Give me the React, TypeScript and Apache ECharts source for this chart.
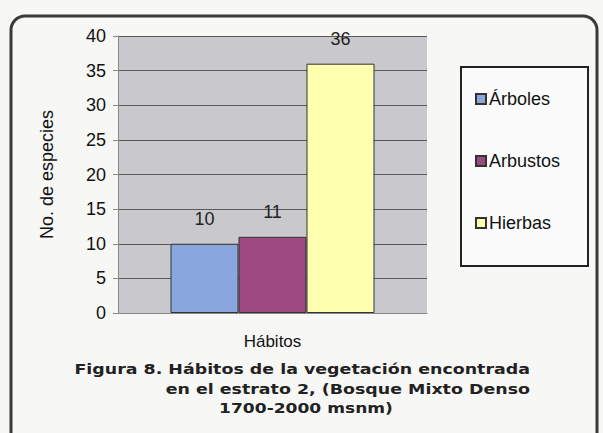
import React, { useEffect, useRef } from "react";
import * as echarts from "echarts";

const categories = [""];
const seriesNames = ["Árboles", "Arbustos", "Hierbas"];
const arboles = [10];
const arbustos = [11];
const hierbas = [36];
const yTicks = { min: 0, max: 40, interval: 5 };
const captionLines = [
  "Figura 8. Hábitos de la vegetación encontrada",
  "en el estrato 2, (Bosque Mixto Denso",
  "1700-2000 msnm)",
];

export default function App() {
  const ref = useRef<HTMLDivElement>(null);
  useEffect(() => {
    document.body.style.margin = "0";
    const chart = echarts.init(ref.current!, null, { renderer: "svg" });
    const font = "Liberation Sans, Arial, sans-serif";
    const colors = ["#8aa6de", "#9c4a80", "#ffffb0"];
    const values = [arboles, arbustos, hierbas];
    const capStyle = { fontSize: 14, fontWeight: "bold", fontFamily: "DejaVu Sans", fill: "#222" };
    chart.setOption({
      animation: false,
      backgroundColor: "#f7f7f5",
      textStyle: { fontFamily: font },
      grid: { left: 118, right: 176, top: 36, bottom: 120, backgroundColor: "#c9c9cd", show: true, borderWidth: 0 },
      legend: {
        orient: "vertical",
        left: 470,
        top: 85,
        itemGap: 44,
        itemWidth: 10,
        itemHeight: 10,
        icon: "rect",
        textStyle: { fontSize: 18, color: "#111", fontFamily: font, padding: [0, 0, 0, -2] },
        data: seriesNames,
      },
      xAxis: {
        type: "category",
        data: categories,
        name: "Hábitos",
        nameLocation: "middle",
        nameGap: 20,
        nameTextStyle: { fontSize: 17, color: "#111" },
        axisLine: { lineStyle: { color: "#888", width: 1 } },
        axisTick: { show: false },
        axisLabel: { show: false },
      },
      yAxis: {
        type: "value",
        min: yTicks.min,
        max: yTicks.max,
        interval: yTicks.interval,
        name: "No. de especies",
        nameLocation: "middle",
        nameGap: 62,
        nameTextStyle: { fontSize: 18, color: "#111" },
        axisLine: { show: true, lineStyle: { color: "#888" } },
        axisTick: { show: true, length: 5, lineStyle: { color: "#888" } },
        axisLabel: { fontSize: 18, color: "#111", margin: 12 },
        splitLine: { lineStyle: { color: "#5a5a5a", width: 1 } },
      },
      series: seriesNames.map((n, i) => ({
        name: n,
        type: "bar",
        data: values[i],
        barWidth: 68,
        barGap: "0%",
        itemStyle: { color: colors[i], borderColor: "#333", borderWidth: 1 },
        label: { show: true, position: "top", distance: 16, fontSize: 18, color: "#222" },
      })),
      graphic: [
        {
          type: "rect",
          shape: { x: 11, y: 16, width: 586, height: 440, r: 14 },
          style: { fill: "none", stroke: "#3a3a3a", lineWidth: 3 },
          z: -1,
        },
        {
          type: "rect",
          shape: { x: 461, y: 67, width: 127, height: 199 },
          style: { fill: "#fbfbfb", stroke: "#222", lineWidth: 2 },
          z: -1,
        },
        {
          type: "text",
          x: 530,
          y: 362,
          scaleX: 1.245,
          style: { ...capStyle, text: captionLines[0], align: "right" },
        },
        {
          type: "text",
          x: 530,
          y: 382,
          scaleX: 1.245,
          style: { ...capStyle, text: captionLines[1], align: "right" },
        },
        {
          type: "text",
          x: 306,
          y: 402,
          scaleX: 1.22,
          style: { ...capStyle, text: captionLines[2], align: "center" },
        },
      ],
    });
    return () => chart.dispose();
  }, []);
  return <div ref={ref} style={{ width: 603, height: 433 }} />;
}
